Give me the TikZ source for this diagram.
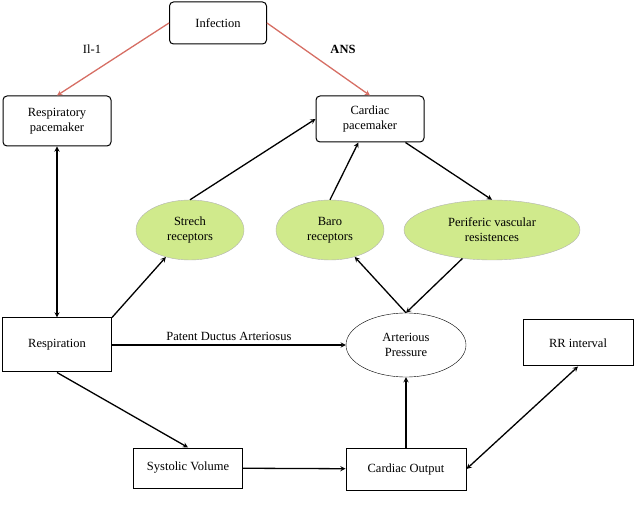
\documentclass[tikz,border=0pt]{standalone}
\usepackage{fontspec}
\setmainfont{Liberation Serif}
\usetikzlibrary{shapes.geometric}
\definecolor{recgreen}{RGB}{208,234,140}
\definecolor{infred}{RGB}{214,110,100}
\begin{document}
\begin{tikzpicture}[x=1pt, y=-1pt]
    % Define styles
    \tikzset{
        txt/.style = {font=\fontsize{12.5}{15}\selectfont},
        box/.style = {rectangle, rounded corners=4pt, align=center, draw=black, line width=1pt, fill=white, txt, inner sep=2pt},
        receptor/.style = {ellipse, align=center, draw=gray!60, fill=recgreen, txt, minimum width=108pt, minimum height=60pt},
        pressure/.style = {ellipse, align=center, draw=black, txt, minimum width=120pt, minimum height=64pt},
        arrow/.style = {line width=1.3pt, ->, >=stealth},
        redarrow/.style = {line width=1.3pt, ->, >=stealth, draw=infred}
    }
    \useasboundingbox (0,0) rectangle (640,518);

    % Nodes
    \node (inf) [box, minimum width=97pt, minimum height=42pt] at (218,23) {Infection};
    \node (resppm) [box, minimum width=108pt, minimum height=50pt] at (57,121) {Respiratory\\pacemaker};
    \node (cardpm) [box, minimum width=108pt, minimum height=46pt] at (370,119) {Cardiac\\pacemaker};
    \node (strech) [receptor] at (190,230) {Strech\\receptors};
    \node (baro) [receptor] at (330,230) {Baro\\receptors};
    \node (perif) [receptor, minimum width=176pt] at (492,230) {Periferic vascular\\resistences};
    \node (resp) [box, rounded corners=0pt, minimum width=109pt, minimum height=54pt] at (57,345) {Respiration};
    \node (artp) [pressure] at (406,345) {Arterious\\Pressure};
    \node (rr) [box, rounded corners=0pt, minimum width=110pt, minimum height=46pt] at (578,343) {RR interval};
    \node (sysv) [box, rounded corners=0pt, minimum width=109pt, minimum height=40pt] at (188,468) {Systolic Volume};
    \node (cout) [box, rounded corners=0pt, minimum width=120pt, minimum height=42pt] at (406,469) {Cardiac Output};

    % Arrows
    \draw [redarrow] (inf.west) -- node [above left, text=black, txt, xshift=-8pt, yshift=2pt] {Il-1} (resppm.north);
    \draw [redarrow] (inf.east) -- node [above right, text=black, font=\fontsize{12.5}{15}\selectfont\bfseries, xshift=8pt, yshift=2pt] {ANS} (cardpm.north);
    \draw [arrow, <->] (resppm) -- (resp);
    \draw [arrow] (resp.north east) -- (strech);
    \draw [arrow] (strech.north) -- (cardpm.west);
    \draw [arrow] (baro.north) -- (cardpm);
    \draw [arrow] (cardpm) -- (perif.north);
    \draw [arrow] (artp.north) -- (baro);
    \draw [arrow] (perif) -- (artp.north);
    \draw [arrow] (resp) -- node [above, txt] {Patent Ductus Arteriosus} (artp);
    \draw [arrow] (resp.south) -- (sysv.north);
    \draw [arrow] (sysv) -- (cout);
    \draw [arrow] (cout) -- (artp);
    \draw [arrow, <->] (cout.east) -- (rr.south);
\end{tikzpicture}
\end{document}
